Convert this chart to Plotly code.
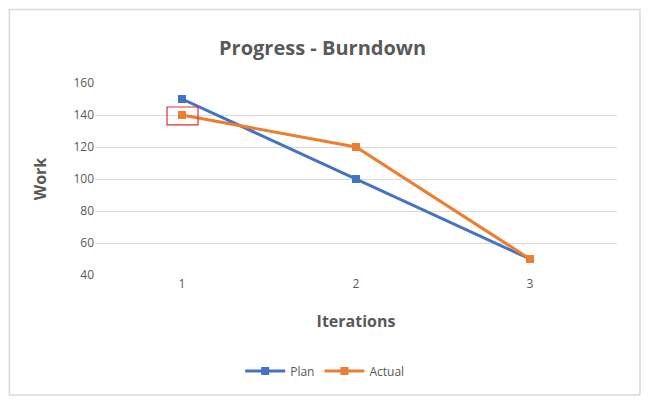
import plotly.graph_objects as go

# data
iterations = [1, 2, 3]
plan = [150, 100, 50]
actual = [140, 120, 50]

fig = go.Figure()

fig.add_trace(go.Scatter(
    x=iterations, y=plan, mode="lines+markers", name="Plan",
    line=dict(color="#4472C4", width=3),
    marker=dict(symbol="square", size=8, color="#4472C4"),
))
fig.add_trace(go.Scatter(
    x=iterations, y=actual, mode="lines+markers", name="Actual",
    line=dict(color="#ED7D31", width=3),
    marker=dict(symbol="square", size=8, color="#ED7D31"),
))

# red highlight box around the first Actual point
fig.add_shape(type="rect", xref="x", yref="y",
              x0=0.914, x1=1.092, y0=133.8, y1=145,
              line=dict(color="#E03030", width=1.2))

# outer chart border
fig.add_shape(type="rect", xref="paper", yref="paper",
              x0=-0.164, x1=1.044, y0=-0.625, y1=1.383,
              line=dict(color="#D9D9D9", width=1.5))

# page body adds ~8px margin, so the figure is a bit smaller than the window
fig.update_layout(
    width=642, height=395,
    margin=dict(l=87, r=33, t=75, b=128),
    paper_bgcolor="white", plot_bgcolor="white",
    font=dict(family="Open Sans, DejaVu Sans, sans-serif", color="#595959"),
    title=dict(text="<b>Progress - Burndown</b>", x=0.49, xanchor="center",
               y=0.9, yanchor="middle", font=dict(size=20, color="#595959")),
    xaxis=dict(range=[0.5, 3.5], tickvals=iterations, ticktext=["1", "2", "3"],
               showgrid=False, zeroline=False, showline=False,
               tickfont=dict(size=12, color="#595959"), ticks="",
               title=dict(text="<b>Iterations</b>", font=dict(size=16, color="#595959"),
                          standoff=24)),
    yaxis=dict(range=[40, 160], dtick=20, showgrid=True, gridcolor="#D9D9D9",
               zeroline=False, showline=False, ticks="",
               tickfont=dict(size=12, color="#595959"),
               title=dict(text="<b>Work</b>", font=dict(size=16, color="#595959"),
                          standoff=22)),
    showlegend=True,
    legend=dict(orientation="h", x=0.44, xanchor="center", y=-0.5, yanchor="middle",
                font=dict(size=12, color="#595959"), itemwidth=40),
)

fig.write_html("out.html")
